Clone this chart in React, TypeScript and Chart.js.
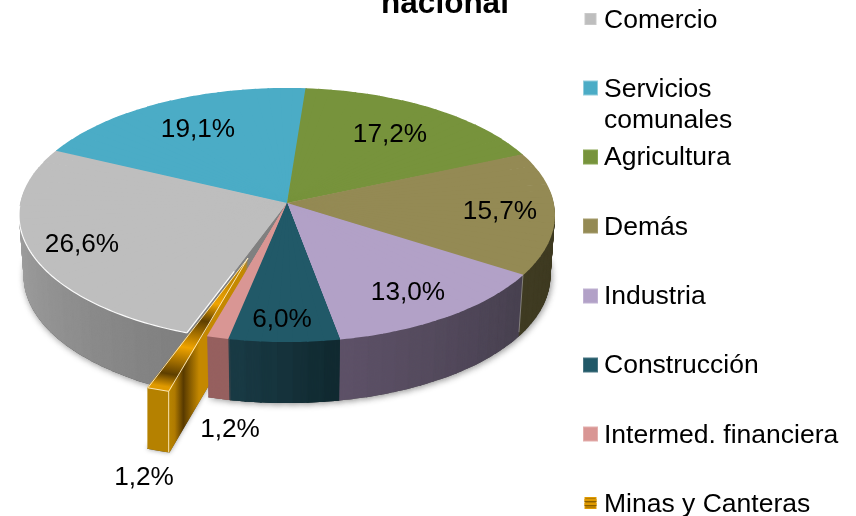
import React, { useEffect, useRef } from "react";
import { Chart, registerables } from "chart.js";

Chart.register(...registerables);

// ---- data ----
const categories = ["Comercio", "Servicios comunales", "Agricultura", "Demás", "Industria", "Construcción", "Intermed. financiera", "Minas y Canteras"];
const legendLines = [["Comercio"], ["Servicios", "comunales"], ["Agricultura"], ["Demás"], ["Industria"], ["Construcción"], ["Intermed. financiera"], ["Minas y Canteras"]];
const shares = [26.6, 19.1, 17.2, 15.7, 13.0, 6.0, 1.2, 1.2];
const shareLabels = ["26,6%", "19,1%", "17,2%", "15,7%", "13,0%", "6,0%", "1,2%", "1,2%"];
const titleText = "nacional";

// ---- styles ----
const topColors = ["#BEBEBE", "#4BACC6", "#77933C", "#948A54", "#B2A1C7", "#215968", "#D99694", "#B97F00"];
const wallFrom = ["#7F7F7F", "#2F7A8D", "#55702A", "#3F3B22", "#47404F", "#10292F", "#96605F", "#B58100"];
const wallTo = ["#B0B0B0", "#2F7A8D", "#55702A", "#3F3B22", "#5E5268", "#1A3B46", "#96605F", "#B58100"];
const swatchSizes = [12, 15, 15, 15, 15, 15, 15, 12];
const swatchEdges = ["#C9C9C9", "#92CDDC", "#8AA653", "#A59C6C", "#C0B2D2", "#4A7683", "#E3AFAD", "#E09A00"];
const legendMarkerY = [19, 88, 157, 226, 296, 365, 434, 503];
const legendBaselineY = [28, 97, 165, 235, 304, 373, 443, 512];
const legendLineGap = 31;
const labelCentres = [[82, 244.5], [198, 129.5], [390, 134.5], [500, 211.5], [408, 292.5], [282, 319.5], [230, 429.5], [144, 477.5]];
const FONT = '"Liberation Sans", Arial, sans-serif';
const EXPLODED = 7;
const BEHIND_EXPLODED = [6, 5];
const EXPLODE_SHIFT = [-39, 55];
const DEPTH = 61;
const SHRINK = 0.017;

// perspective of the pie's disc
const K = 0.0945, RX = 266.8, RY = 125.9, CX = 287, CY = 203;
const project = (u: number, v: number) => {
  const w = 1 / (1 - K * v);
  return [CX + RX * u * w, CY + RY * v * w];
};

const hexMix = (a: string, b: string, t: number) => {
  const p = (h: string, i: number) => parseInt(h.slice(i, i + 2), 16);
  const c = (i: number) => Math.round(p(a, i) + (p(b, i) - p(a, i)) * t);
  return `rgb(${c(1)},${c(3)},${c(5)})`;
};

const drawWedge = (ctx: any, arc: any, a0: number, a1: number, fill: any, dx: number, dy: number, shrink: number, radiusScale = 1) => {
  const R = arc.$radius;
  const P1 = [R * Math.cos(a0), R * Math.sin(a0)];
  const P2 = [R * Math.cos(a1), R * Math.sin(a1)];
  const H1 = project(Math.cos(a0), Math.sin(a0));
  const H2 = project(Math.cos(a1), Math.sin(a1));
  const Q1 = [H1[0] - CX, H1[1] - CY];
  const Q2 = [H2[0] - CX, H2[1] - CY];
  const det = P1[0] * P2[1] - P2[0] * P1[1];
  const a = ((Q1[0] * P2[1] - Q2[0] * P1[1]) / det) * shrink;
  const c = ((-Q1[0] * P2[0] + Q2[0] * P1[0]) / det) * shrink;
  const b = (Q1[1] * P2[1] - Q2[1] * P1[1]) / det;
  const d = (-Q1[1] * P2[0] + Q2[1] * P1[0]) / det;
  const e = CX + dx - (a * arc.x + c * arc.y);
  const f = CY + dy - (b * arc.x + d * arc.y);
  const pad = radiusScale === 1 ? 0.003 : 0;
  arc.startAngle = a0 - pad;
  arc.endAngle = a1 + pad;
  arc.circumference = a1 - a0 + 2 * pad;
  arc.outerRadius = R * radiusScale;
  arc.options = { ...arc.$base, backgroundColor: fill, borderWidth: 0 };
  ctx.save();
  ctx.transform(a, b, c, d, e, f);
  arc.draw(ctx);
  ctx.restore();
};

const STEP = (3 * Math.PI) / 180;

const subdivide = (s: number, e: number) => {
  const n = Math.max(1, Math.round((e - s) / STEP));
  return Array.from({ length: n }, (_, i) => [s + ((e - s) * i) / n, s + ((e - s) * (i + 1)) / n]);
};

const threeD = {
  id: "threeD",
  beforeDatasetsDraw(chart: any) {
    const ctx = chart.ctx;
    const arcs = chart.getDatasetMeta(0).data;
    const spans = arcs.map((arc: any) => {
      if (!arc.$base) arc.$base = { ...arc.options };
      arc.$radius = arc.outerRadius;
      return [arc.startAngle, arc.endAngle];
    });
    const pieces = (i: number) => subdivide(spans[i][0], spans[i][1]);
    const main = arcs.map((_: any, i: number) => i).filter((i: number) => i !== EXPLODED);

    const drawWalls = (which: number[]) => {
      for (let t = DEPTH; t >= 1; t--) {
        for (const i of which) {
          const [S, E] = spans[i];
          for (const [s, e] of pieces(i)) {
            if (Math.max(Math.sin(s), Math.sin(e)) < -0.05) continue;
            const col = hexMix(wallFrom[i], wallTo[i], ((s + e) / 2 - S) / (E - S));
            drawWedge(ctx, arcs[i], s, e, col, 0, t, 1 - (SHRINK * t) / DEPTH);
          }
        }
      }
    };
    const drawTops = (which: number[]) => {
      // a slightly smaller whole slice first, so the fine pieces leave no seams near the centre
      for (const i of which) drawWedge(ctx, arcs[i], spans[i][0], spans[i][1], topColors[i], 0, 0, 1, 0.9);
      for (const i of which) for (const [s, e] of pieces(i)) drawWedge(ctx, arcs[i], s, e, topColors[i], 0, 0, 1);
    };

    // soft shadow, then the wall of the main body, layer by layer
    ctx.save();
    ctx.shadowColor = "rgba(0,0,0,0.45)";
    ctx.shadowBlur = 7;
    ctx.shadowOffsetX = 1;
    ctx.shadowOffsetY = 1;
    for (const i of main) for (const [s, e] of pieces(i)) {
      if (Math.max(Math.sin(s), Math.sin(e)) < 0) continue;
      drawWedge(ctx, arcs[i], s, e, "#555", 0, DEPTH, 1 - SHRINK);
    }
    ctx.restore();
    drawWalls(main);
    drawTops(main);

    // rim highlights on the big grey slice
    const [cs, ce] = spans[0];
    ctx.save();
    ctx.strokeStyle = "rgba(255,255,255,0.95)";
    ctx.lineWidth = 1.2;
    ctx.beginPath();
    for (let a = cs; a < cs + (ce - cs) * 0.72; a += 0.02) {
      const p = project(Math.cos(a), Math.sin(a));
      ctx.lineTo(p[0], p[1]);
    }
    ctx.stroke();
    const near = project(Math.cos(cs) * 0.55, Math.sin(cs) * 0.55);
    const far = project(Math.cos(cs), Math.sin(cs));
    ctx.beginPath();
    ctx.moveTo(near[0], near[1]);
    ctx.lineTo(far[0], far[1]);
    ctx.stroke();
    // pale seam between two wall faces
    const [, de] = spans[3];
    const seam = project(Math.cos(de), Math.sin(de));
    ctx.strokeStyle = "rgba(255,255,255,0.35)";
    ctx.lineWidth = 1;
    ctx.beginPath();
    ctx.moveTo(seam[0], seam[1]);
    ctx.lineTo(CX + (seam[0] - CX) * (1 - SHRINK), seam[1] + DEPTH - 4);
    ctx.stroke();
    ctx.restore();

    // the pulled-out slice, with its own banded metal fill
    const arc = arcs[EXPLODED];
    const [ms, me] = spans[EXPLODED];
    const mid = (ms + me) / 2;
    const R = arc.$radius;
    const radial = () => ctx.createLinearGradient(arc.x, arc.y, arc.x + R * Math.cos(mid), arc.y + R * Math.sin(mid));
    const wall = radial();
    wall.addColorStop(0, "#C48800");
    wall.addColorStop(0.62, "#C48800");
    wall.addColorStop(0.82, "#583A00");
    wall.addColorStop(0.93, "#B07A00");
    wall.addColorStop(0.975, "#B58100");
    wall.addColorStop(1, "#B58100");
    const [sdx, sdy] = EXPLODE_SHIFT;
    ctx.save();
    ctx.shadowColor = "rgba(0,0,0,0.4)";
    ctx.shadowBlur = 5;
    drawWedge(ctx, arc, ms, me, "#555", sdx, sdy + DEPTH, 1);
    ctx.restore();
    for (let t = DEPTH; t >= 1; t--) drawWedge(ctx, arc, ms, me, wall, sdx, sdy + t, 1);
    // the neighbours stand in front of that wall
    drawWalls(BEHIND_EXPLODED);
    drawTops(BEHIND_EXPLODED);

    const top = radial();
    const bands: [number, string][] = [[0, "#B07A00"], [0.2, "#C88A00"], [0.35, "#F0A400"], [0.48, "#5E3F00"], [0.68, "#F0A400"], [0.88, "#5E3F00"], [0.97, "#E09A00"], [1, "#E09A00"]];
    for (const [o, c] of bands) top.addColorStop(o, c);
    drawWedge(ctx, arc, ms, me, top, sdx, sdy, 1);

    // thin white outline of the pulled-out slice
    const A = project(0, 0);
    const B = project(Math.cos(ms), Math.sin(ms));
    const C = project(Math.cos(me), Math.sin(me));
    const sh = (p: number[], y = 0) => [p[0] + sdx, p[1] + sdy + y];
    ctx.save();
    ctx.strokeStyle = "rgba(255,240,200,0.9)";
    ctx.lineWidth = 1;
    ctx.beginPath();
    const pts = [sh(A), sh(C), sh(B), sh(A)];
    pts.forEach((p, i) => (i ? ctx.lineTo(p[0], p[1]) : ctx.moveTo(p[0], p[1])));
    const b0 = sh(B), b1 = sh(B, DEPTH);
    ctx.moveTo(b0[0], b0[1]);
    ctx.lineTo(b1[0], b1[1]);
    ctx.stroke();
    ctx.restore();

    arcs.forEach((a: any, i: number) => {
      a.startAngle = spans[i][0];
      a.endAngle = spans[i][1];
      a.circumference = spans[i][1] - spans[i][0];
      a.outerRadius = a.$radius;
      a.options = a.$base;
    });
    return false;
  },
  afterDraw(chart: any) {
    const ctx = chart.ctx;
    ctx.save();
    ctx.fillStyle = "#000";
    // cropped chart title
    ctx.textAlign = "center";
    ctx.textBaseline = "alphabetic";
    ctx.font = `bold 31.5px ${FONT}`;
    ctx.fillText(titleText, 445, 13);
    // value labels
    ctx.font = `26.2px ${FONT}`;
    ctx.textBaseline = "middle";
    shareLabels.forEach((t, i) => ctx.fillText(t, labelCentres[i][0], labelCentres[i][1]));
    // legend
    ctx.textAlign = "left";
    ctx.textBaseline = "alphabetic";
    ctx.font = `26.5px ${FONT}`;
    categories.forEach((_, i) => {
      const s = swatchSizes[i];
      const x = 590.5 - s / 2;
      const y = legendMarkerY[i] - s / 2;
      ctx.fillStyle = swatchEdges[i];
      ctx.fillRect(x, y, s, s);
      ctx.fillStyle = topColors[i];
      ctx.fillRect(x + 1, y + 1, s - 2, s - 2);
      if (i === EXPLODED) {
        ctx.fillStyle = "#E09A00";
        ctx.fillRect(x, y + 2, s, 2);
        ctx.fillRect(x, y + 6, s, 2);
        ctx.fillStyle = "#8A5E00";
        ctx.fillRect(x, y + 4, s, 1);
        ctx.fillRect(x, y + 8, s, 1);
      }
      ctx.fillStyle = "#000";
      legendLines[i].forEach((line, j) => ctx.fillText(line, 604, legendBaselineY[i] + j * legendLineGap));
    });
    ctx.restore();
  },
};

export default function App() {
  const ref = useRef<HTMLCanvasElement>(null);
  useEffect(() => {
    document.body.style.margin = "0";
    const chart = new Chart(ref.current!, {
      type: "pie",
      data: {
        labels: categories,
        datasets: [{ data: shares, backgroundColor: topColors, borderWidth: 0 }],
      },
      options: {
        responsive: false,
        animation: false,
        rotation: 200,
        layout: { padding: 0 },
        plugins: { legend: { display: false }, title: { display: false }, tooltip: { enabled: false } },
      },
      plugins: [threeD],
    } as any);
    return () => chart.destroy();
  }, []);
  return (
    <canvas
      ref={ref}
      width={856}
      height={516}
      style={{ position: "absolute", left: 0, top: 0, width: 856, height: 516, background: "#fff" }}
    />
  );
}
